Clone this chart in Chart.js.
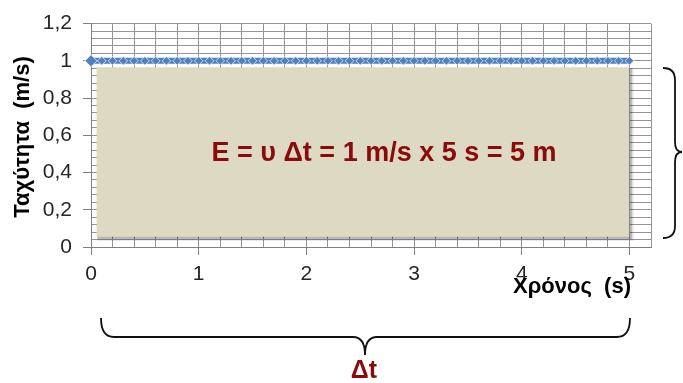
<!DOCTYPE html>
<html><head><meta charset="utf-8">
<script src="https://cdn.jsdelivr.net/npm/chart.js@4/dist/chart.umd.min.js"></script>
<style>html,body{margin:0;padding:0;background:#fff;overflow:hidden}canvas{display:block}</style>
</head><body>
<canvas id="c" width="683" height="383"></canvas>
<script>
// ---- data ----
const timeValues = [0,0.1,0.2,0.3,0.4,0.5,0.6,0.7,0.8,0.9,1,1.1,1.2,1.3,1.4,1.5,1.6,1.7,1.8,1.9,2,2.1,2.2,2.3,2.4,2.5,2.6,2.7,2.8,2.9,3,3.1,3.2,3.3,3.4,3.5,3.6,3.7,3.8,3.9,4,4.1,4.2,4.3,4.4,4.5,4.6,4.7,4.8,4.9,5];
const speedValues = [1,1,1,1,1,1,1,1,1,1,1,1,1,1,1,1,1,1,1,1,1,1,1,1,1,1,1,1,1,1,1,1,1,1,1,1,1,1,1,1,1,1,1,1,1,1,1,1,1,1,1];
const xTickValues = [0,1,2,3,4,5];
const xTickLabels = ['0','1','2','3','4','5'];
const yTickValues = [0,0.2,0.4,0.6,0.8,1,1.2];
const yTickLabels = ['0','0,2','0,4','0,6','0,8','1','1,2'];
const xMax = 5.2, yMax = 1.2;
const xMinorStep = 0.2, yMinorStep = 0.04;
const areaTime = [0.05, 5];
const areaTop = 0.965, areaBottom = 0.055;
const yTitle = 'Ταχύτητα  (m/s)';
const xTitle = 'Χρόνος  (s)';
const formulaText = 'E = υ Δt = 1 m/s x 5 s = 5 m';
const bracketLabel = 'Δt';

const FONT = '"Liberation Sans", Arial, sans-serif';
const DARKRED = '#8A0B0B';
const BEIGE = '#DDD9C3';
const GRID = '#959595';

function gridTicks(max, step) {
  const out = [];
  const n = Math.round(max / step);
  for (let i = 0; i <= n; i++) out.push({ value: +(i * step).toFixed(6) });
  return out;
}
function labelFor(values, labels, v) {
  const i = values.findIndex(t => Math.abs(t - v) < 1e-6);
  return i >= 0 ? labels[i] : '';
}
function tickColorFor(values, labels) {
  return c => (c.tick && labelFor(values, labels, c.tick.value) !== '') ? '#7F7F7F' : 'rgba(0,0,0,0)';
}

const annotations = {
  id: 'annotations',
  beforeDatasetsDraw(chart) {
    const ctx = chart.ctx, sx = chart.scales.x, sy = chart.scales.y;
    const l = sx.getPixelForValue(areaTime[0]), r = sx.getPixelForValue(areaTime[1]);
    const t = sy.getPixelForValue(areaTop), b = sy.getPixelForValue(areaBottom);
    ctx.save();
    ctx.fillStyle = 'rgba(0,0,0,0.12)';
    ctx.fillRect(l + 1, t + 1, r - l + 3, b - t + 3);
    ctx.fillStyle = 'rgba(0,0,0,0.18)';
    ctx.fillRect(l + 1, t + 1, r - l + 1.5, b - t + 1.5);
    ctx.restore();
  },
  afterDraw(chart) {
    const ctx = chart.ctx;
    ctx.save();
    ctx.fillStyle = '#000';
    ctx.font = 'bold 22px ' + FONT;
    ctx.textAlign = 'center';
    ctx.textBaseline = 'middle';
    ctx.translate(23, 137);
    ctx.rotate(-Math.PI / 2);
    ctx.fillText(yTitle, 0, 0);
    ctx.restore();

    ctx.save();
    ctx.fillStyle = '#000';
    ctx.font = 'bold 22px ' + FONT;
    ctx.textAlign = 'right';
    ctx.textBaseline = 'middle';
    ctx.fillText(xTitle, 631, 287);
    ctx.fillStyle = DARKRED;
    ctx.font = 'bold 27px ' + FONT;
    ctx.textAlign = 'center';
    ctx.fillText(formulaText, 384, 154);
    ctx.font = 'bold 25px ' + FONT;
    ctx.fillText(bracketLabel, 364, 371);
    ctx.strokeStyle = '#111';
    ctx.lineWidth = 1.8;
    ctx.beginPath();
    ctx.moveTo(101, 318);
    ctx.quadraticCurveTo(101, 337, 114, 337);
    ctx.lineTo(353, 337);
    ctx.quadraticCurveTo(365, 337, 365, 355);
    ctx.quadraticCurveTo(365, 337, 377, 337);
    ctx.lineTo(617, 337);
    ctx.quadraticCurveTo(630, 337, 630, 318);
    ctx.stroke();
    ctx.beginPath();
    ctx.moveTo(663, 68);
    ctx.quadraticCurveTo(675, 68, 675, 80);
    ctx.lineTo(675, 142);
    ctx.quadraticCurveTo(675, 152, 682, 152);
    ctx.quadraticCurveTo(675, 152, 675, 162);
    ctx.lineTo(675, 226);
    ctx.quadraticCurveTo(675, 238, 663, 238);
    ctx.stroke();
    ctx.restore();
  }
};

const points = timeValues.map((t, i) => ({ x: t, y: speedValues[i] }));
const area = [{ x: areaTime[0], y: areaTop }, { x: areaTime[1], y: areaTop }];

new Chart(document.getElementById('c'), {
  type: 'line',
  data: {
    datasets: [
      {
        data: points,
        borderColor: '#4F81BD',
        borderWidth: 6,
        pointStyle: 'rectRot',
        pointRadius: c => c.dataIndex === 0 ? 6 : 4.3,
        pointBackgroundColor: '#4F81BD',
        pointBorderColor: 'rgba(255,255,255,0.7)',
        pointBorderWidth: 1,
        clip: false
      },
      {
        data: area,
        borderWidth: 0,
        pointRadius: 0,
        backgroundColor: BEIGE,
        fill: { value: areaBottom }
      }
    ]
  },
  options: {
    responsive: false,
    animation: false,
    layout: { padding: { top: 23, right: 32, left: 0, bottom: 0 } },
    plugins: { legend: { display: false }, tooltip: { enabled: false } },
    scales: {
      x: {
        type: 'linear',
        min: 0, max: xMax,
        afterBuildTicks: s => { s.ticks = gridTicks(xMax, xMinorStep); },
        afterFit: s => { s.height = 136; },
        grid: { color: GRID, lineWidth: 1, tickLength: 8, tickColor: tickColorFor(xTickValues, xTickLabels) },
        border: { color: '#7F7F7F', width: 1 },
        ticks: {
          autoSkip: false, maxRotation: 0, minRotation: 0, padding: 7, color: '#262626',
          font: { family: FONT, size: 21 },
          callback: v => labelFor(xTickValues, xTickLabels, v)
        }
      },
      y: {
        type: 'linear',
        min: 0, max: yMax,
        afterBuildTicks: s => { s.ticks = gridTicks(yMax, yMinorStep); },
        afterFit: s => { s.width = 91; },
        grid: { color: GRID, lineWidth: 1, tickLength: 8, tickColor: tickColorFor(yTickValues, yTickLabels) },
        border: { color: '#7F7F7F', width: 1 },
        ticks: {
          autoSkip: false, padding: 11, color: '#262626',
          font: { family: FONT, size: 21 },
          callback: v => labelFor(yTickValues, yTickLabels, v)
        }
      }
    }
  },
  plugins: [annotations]
});
</script>
</body></html>
